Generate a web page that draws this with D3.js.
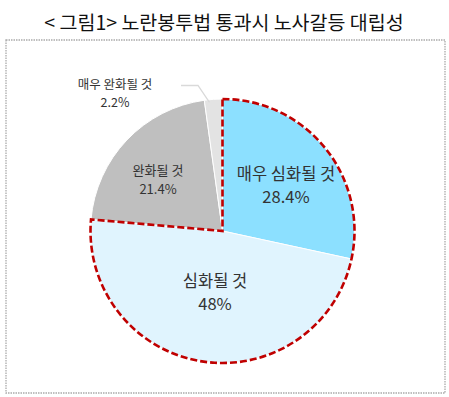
<!DOCTYPE html>
<html><head><meta charset="utf-8">
<script src="https://cdn.jsdelivr.net/npm/d3@7"></script>
<style>body{margin:0;background:#fff}svg{display:block}text{font-family:"Noto Sans CJK KR","Noto Sans",sans-serif}</style>
</head><body>
<svg id="c" width="449" height="397"></svg>
<script>
const title = "< 그림1> 노란봉투법 통과시 노사갈등 대립성";
const categories = ["매우 심화될 것", "심화될 것", "완화될 것", "매우 완화될 것"];
const values = [28.4, 48, 21.4, 2.2];
const valueLabels = ["28.4%", "48%", "21.4%", "2.2%"];
const colors = ["#8ce0ff", "#e0f4fe", "#bfbfbf", "#e3e3e3"];

const svg = d3.select("#c");
const cx = 222.5, cy = 231, r = 132;

svg.append("text").attr("x", 224).attr("y", 30).attr("text-anchor", "middle")
  .attr("font-size", 19.5).attr("font-weight", 400).attr("fill", "#111").text(title);

svg.append("rect").attr("x", 6).attr("y", 40).attr("width", 439).attr("height", 353)
  .attr("fill", "none").attr("stroke", "#aaa").attr("stroke-width", 1.3).attr("stroke-dasharray", "1.5,1");

const pie = d3.pie().sort(null).value(d => d)(values);
const arc = d3.arc().innerRadius(0).outerRadius(r);
const g = svg.append("g").attr("transform", `translate(${cx},${cy})`);
g.selectAll("path.s").data(pie).join("path").attr("class", "s")
  .attr("d", arc).attr("fill", (d, i) => colors[i]).attr("stroke", "#fff").attr("stroke-width", 1);

// red dashed outline around the "worsen" slices
const total = d3.sum(values);
const outlineEnd = (values[0] + values[1]) / total * 2 * Math.PI;
g.append("path").attr("d", d3.arc().innerRadius(0).outerRadius(r)({startAngle: 0, endAngle: outlineEnd}))
  .attr("fill", "none").attr("stroke", "#c00000").attr("stroke-width", 2.6)
  .attr("stroke-dasharray", "7,3").attr("stroke-linejoin", "miter");

// leader line for smallest slice
const small = pie[3];
const mid = (small.startAngle + small.endAngle) / 2;
const p0 = [Math.sin(mid) * (r - 1), -Math.cos(mid) * (r - 1)];
svg.append("polyline").attr("points", [[cx + p0[0] - 4, cy + p0[1] + 2], [198, 85.5], [181, 85.5]].map(p => p.join(",")).join(" "))
  .attr("fill", "none").attr("stroke", "#d9d9d9").attr("stroke-width", 1.3);

const labels = [
  {x: 286, y1: 180, y2: 203, fs: 16.5},
  {x: 215, y1: 287, y2: 310, fs: 16.5},
  {x: 158, y1: 175, y2: 193.5, fs: 13},
  {x: 115, y1: 89, y2: 106.5, fs: 12.5}
];
labels.forEach((l, i) => {
  svg.append("text").attr("x", l.x).attr("y", l.y1).attr("text-anchor", "middle")
    .attr("font-size", l.fs).attr("fill", "#333").text(categories[i]);
  svg.append("text").attr("x", l.x).attr("y", l.y2).attr("text-anchor", "middle")
    .attr("font-size", l.fs).attr("fill", "#333").text(valueLabels[i]);
});
</script>
</body></html>
